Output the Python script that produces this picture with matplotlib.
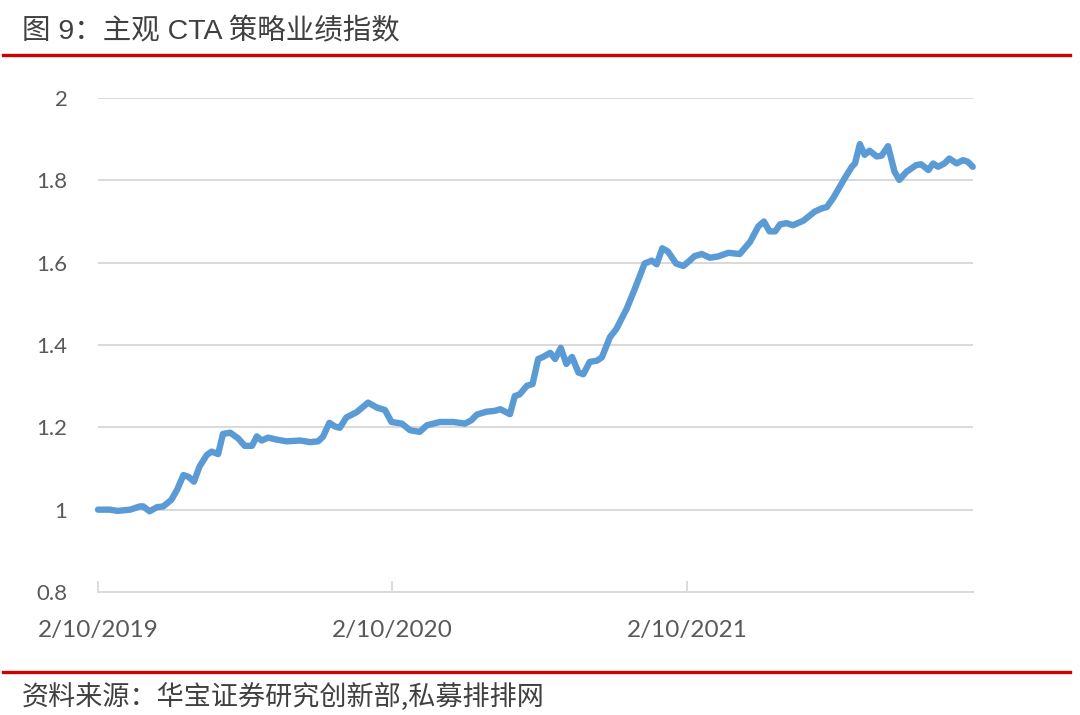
import numpy as np
import pandas as pd
import matplotlib
matplotlib.use('Agg')
import matplotlib.pyplot as plt
import matplotlib.dates as mdates

plt.rcParams['font.family'] = ['Noto Sans CJK SC', 'DejaVu Sans']

# data: days since start, index value
start = pd.Timestamp('2019-02-10')
days = [0, 15, 24, 40, 52, 56, 64, 73, 81, 91, 98, 106, 112, 119, 126, 135, 141, 149,
        155, 164, 174, 182, 191, 197, 203, 211, 222, 234, 251, 263, 273, 279, 287, 294,
        300, 308, 321, 335, 346, 356, 364, 377, 387, 399, 408, 424, 441, 455, 463, 470,
        482, 492, 499, 511, 517, 523, 532, 539, 546, 552, 561, 567, 574, 581, 588, 596,
        602, 610, 619, 625, 635, 643, 656, 666, 678, 687, 693, 700, 707, 717, 726, 734,
        740, 749, 759, 769, 782, 796, 809, 819, 826, 833, 840, 846, 854, 862, 875, 889,
        898, 904, 912, 925, 935, 939, 945, 951, 957, 966, 972, 980, 988, 994, 1003, 1015,
        1021, 1030, 1036, 1042, 1050, 1056, 1065, 1073, 1079, 1085]
values = [1.000, 1.000, 0.997, 1.000, 1.008, 1.008, 0.996, 1.006, 1.008, 1.024, 1.048,
          1.084, 1.080, 1.068, 1.105, 1.133, 1.141, 1.135, 1.184, 1.187, 1.173, 1.155,
          1.155, 1.178, 1.168, 1.175, 1.170, 1.166, 1.168, 1.164, 1.166, 1.177, 1.211,
          1.202, 1.199, 1.224, 1.237, 1.260, 1.248, 1.242, 1.213, 1.209, 1.193, 1.189,
          1.205, 1.213, 1.213, 1.209, 1.217, 1.231, 1.238, 1.240, 1.244, 1.232, 1.276,
          1.280, 1.301, 1.305, 1.366, 1.371, 1.381, 1.366, 1.393, 1.354, 1.371, 1.333,
          1.329, 1.359, 1.362, 1.370, 1.419, 1.439, 1.489, 1.537, 1.598, 1.605, 1.596,
          1.635, 1.627, 1.598, 1.592, 1.605, 1.616, 1.621, 1.612, 1.615, 1.624, 1.621,
          1.651, 1.688, 1.700, 1.676, 1.676, 1.693, 1.696, 1.691, 1.702, 1.724, 1.732,
          1.735, 1.757, 1.801, 1.833, 1.841, 1.888, 1.862, 1.872, 1.858, 1.860, 1.883,
          1.821, 1.801, 1.821, 1.837, 1.839, 1.825, 1.841, 1.833, 1.841, 1.853, 1.841,
          1.849, 1.845, 1.833]
tick_dates = ['2019-02-10', '2020-02-10', '2021-02-10']
tick_labels = ['2/10/2019', '2/10/2020', '2/10/2021']
y_ticks = [0.8, 1.0, 1.2, 1.4, 1.6, 1.8, 2.0]
y_labels = ['0.8', '1', '1.2', '1.4', '1.6', '1.8', '2']

dates = start + pd.to_timedelta(days, unit='D')

fig = plt.figure(figsize=(10.8, 7.15), dpi=100)
ax = fig.add_axes([98 / 1080, 1 - 592 / 715, (972.7 - 98) / 1080, (592 - 98) / 715])

ax.plot(dates, values, color='#5b9bd5', lw=4.6, solid_joinstyle='round',
        solid_capstyle='round', clip_on=False, zorder=3)

ax.set_ylim(0.8, 2.0)
ax.set_xlim(dates[0], dates[-1])
ax.set_yticks(y_ticks)
ax.set_yticklabels(y_labels, fontsize=16, color='#595959', family=['Lato', 'DejaVu Sans'])
ax.yaxis.grid(True, color='#d9d9d9', lw=1.4)
ax.tick_params(axis='y', length=0, pad=22)
ax.set_xticks(pd.to_datetime(tick_dates))
ax.set_xticklabels(tick_labels, fontsize=17.5, color='#595959', family=['Lato', 'DejaVu Sans'])
ax.tick_params(axis='x', direction='in', length=8, width=1.3, color='#d9d9d9', pad=20)
for s in ['top', 'right', 'left']:
    ax.spines[s].set_visible(False)
ax.spines['bottom'].set_color('#d9d9d9')
ax.spines['bottom'].set_linewidth(1.4)
ax.set_axisbelow(True)

# header and footer
fig.text(22 / 1080, 1 - 32 / 715, '图 9：主观 CTA 策略业绩指数', fontsize=20.5,
         color='#404040', va='center', ha='left',
         family=['Liberation Sans', 'Noto Sans CJK SC'])
fig.add_artist(plt.Line2D([3 / 1080, 1070 / 1080], [1 - 55 / 715] * 2,
                          color='#d00000', lw=2.4))
fig.add_artist(plt.Line2D([3 / 1080, 1070 / 1080], [1 - 672 / 715] * 2,
                          color='#d00000', lw=2.4))
fig.text(22 / 1080, 1 - 697 / 715, '资料来源：华宝证券研究创新部,私募排排网', fontsize=19.5,
         color='#404040', va='center', ha='left')

fig.savefig('out.png', dpi=100, facecolor='white')
